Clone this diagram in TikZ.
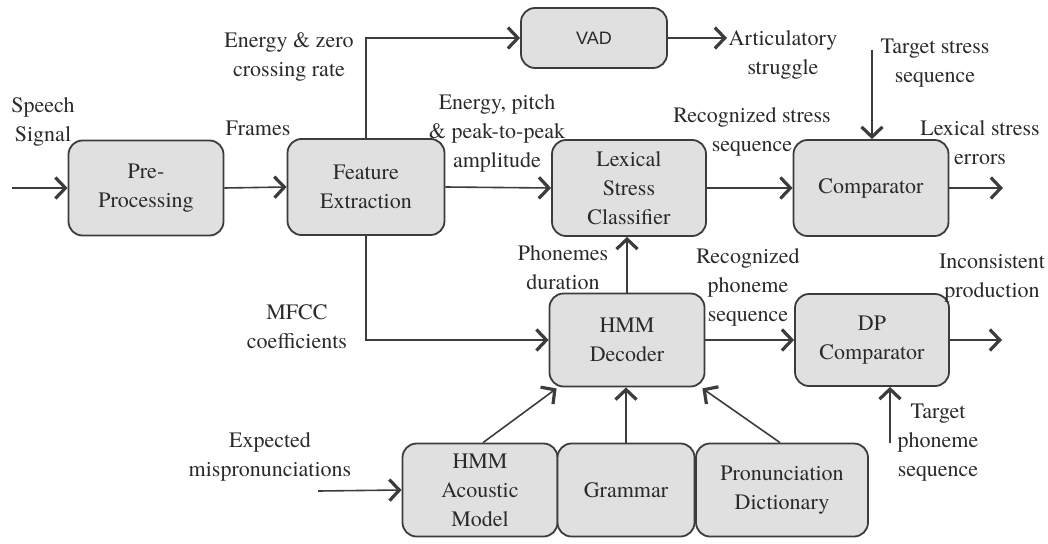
\documentclass[tikz,border=0pt]{standalone}
\usepackage{fontspec}
\setmainfont{texgyretermes}[Extension=.otf, UprightFont=*-regular, BoldFont=*-bold]
\newfontfamily\vadfont{Liberation Sans}
\usetikzlibrary{arrows.meta}
\definecolor{boxfill}{HTML}{E0E0E0}
\definecolor{boxline}{HTML}{3C3C3C}
\definecolor{txt}{HTML}{2A2A2A}
\begin{document}
\begin{tikzpicture}[x=1pt,y=-1pt,
  blk/.style={draw=boxline, fill=boxfill, line width=1.8pt, rounded corners=14pt,
    align=center, inner sep=2pt, text=txt, font=\rmfamily\fontsize{22}{29}\selectfont},
  lbl/.style={align=center, inner sep=0pt, text=txt, font=\rmfamily\fontsize{22}{29}\selectfont},
  conn/.style={draw=boxline, line width=1.6pt,
    -{Straight Barb[length=10pt,width=21pt,line width=3.2pt]}},
  plain/.style={draw=boxline, line width=1.6pt}]
\useasboundingbox (0,0) rectangle (1048,543);
% boxes
\node[blk, minimum width=155pt, minimum height=95pt] (pre) at (146,188) {Pre-\\Processing};
\node[blk, minimum width=157pt, minimum height=96pt] (feat) at (366,187) {Feature\\Extraction};
\node[blk, minimum width=146pt, minimum height=60pt, font=\vadfont\fontsize{18}{22}\selectfont] (vad) at (594,38) {VAD};
\node[blk, minimum width=154pt, minimum height=96pt] (lex) at (629,188) {Lexical\\Stress\\Classifier};
\node[blk, minimum width=155pt, minimum height=96pt] (comp) at (871,188) {Comparator};
\node[blk, minimum width=155pt, minimum height=93pt] (hmm) at (627,340) {HMM\\Decoder};
\node[blk, minimum width=154pt, minimum height=92pt] (dp) at (872,340) {DP\\Comparator};
\node[blk, minimum width=155pt, minimum height=93pt] (ac) at (480,490) {HMM\\Acoustic\\Model};
\node[blk, minimum width=137pt, minimum height=93pt] (gram) at (626,490) {Grammar};
\node[blk, minimum width=172pt, minimum height=93pt] (dict) at (782,490) {Pronunciation\\Dictionary};
% free ends
\coordinate (sin) at (12,188);
\coordinate (vadout) at (727,38);
\coordinate (compout) at (1003,188);
\coordinate (tstress) at (872,50);
\coordinate (dpout) at (1002,340);
\coordinate (tphon) at (890,443);
\coordinate (expm) at (318,491);
% connectors
\draw[conn] (sin) -- (pre.west);
\draw[conn] (pre.east) -- (feat.west);
\draw[conn] (feat.north) |- (vad.west);
\draw[conn] (vad.east) -- (vadout);
\draw[conn] (feat.east) -- (lex.west);
\draw[conn] (lex.east) -- (comp.west);
\draw[conn] (comp.east) -- (compout);
\draw[conn] (tstress) -- (tstress |- comp.north);
\draw[conn] (feat.south) |- (hmm.west);
\draw[conn] (hmm.north) -- (hmm.north |- lex.south);
\draw[conn] (hmm.east) -- (dp.west);
\draw[conn] (dp.east) -- (dpout);
\draw[conn] (tphon) -- (tphon |- dp.south);
\draw[conn] (expm) -- (ac.west);
\draw[conn] ([xshift=3pt]ac.north) -- ([xshift=8pt,yshift=-1pt]hmm.south west);
\draw[conn] (gram.north) -- (gram.north |- hmm.south);
\draw[conn] ([xshift=-2pt]dict.north) -- ([xshift=-3pt,yshift=-1pt]hmm.south east);
% labels
\node[lbl] (lsig) at (43,122) {Speech\\Signal};
\node[lbl] (lfr) at (258,128) {Frames};
\node[lbl] (lez) at (289,57) {Energy \& zero\\crossing rate};
\node[lbl] (lep) at (497,133) {Energy, pitch\\\& peak-to-peak\\amplitude};
\node[lbl] (lart) at (783,55) {Articulatory\\struggle};
\node[lbl] (lts) at (935,63) {Target stress\\sequence};
\node[lbl] (lrs) at (752,132) {Recognized stress\\sequence};
\node[lbl] (lle) at (980,143) {Lexical stress\\errors};
\node[lbl] (lpd) at (563,268) {Phonemes\\duration};
\node[lbl] (lmf) at (297,327) {MFCC\\coefficients};
\node[lbl] (lrp) at (748,287) {Recognized\\phoneme\\sequence};
\node[lbl] (lic) at (992,278) {Inconsistent\\production};
\node[lbl] (lex2) at (270,457) {Expected\\mispronunciations};
\node[lbl] (ltp) at (938,443) {Target\\phoneme\\sequence};
\end{tikzpicture}
\end{document}
